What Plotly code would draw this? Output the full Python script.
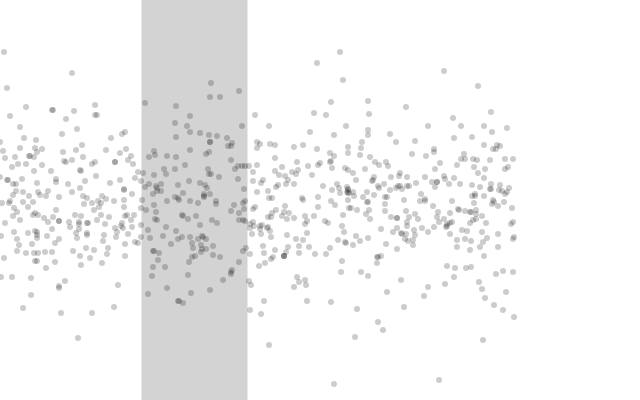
import plotly.graph_objects as go

left_points = [(4,52),(72,73),(7,88),(26,107),(52,110),(53,110),(95,105),(74,111),(10,116),(66,119),(95,115),(97,115),(20,127),(77,129),(62,134),(122,134),(125,132),(24,138),(36,140),(111,138),(82,145),(20,148),(3,151),(35,148),(37,152),(42,149),(76,150),(63,152),(106,150),(120,153),(126,149),(131,156),(5,158),(15,157),(29,156),(30,156),(34,157),(83,157),(72,160),(64,161),(66,162),(115,162),(115,162),(95,162),(92,164),(128,160),(18,164),(26,164),(42,165),(133,164),(12,167),(34,171),(51,171),(80,170),(81,171),(138,172),(96,176),(135,178),(22,179),(7,180),(8,180),(56,179),(56,182),(37,183),(13,184),(16,184),(68,184),(85,181),(110,183),(120,180),(141,181),(80,188),(124,189),(143,173),(0,142),(0,177),
(16,191),(23,192),(38,192),(48,191),(13,195),(29,196),(40,195),(46,196),(59,197),(72,192),(2,203),(9,203),(10,201),(23,202),(33,202),(14,208),(28,207),(17,212),(13,216),(33,215),(35,213),(38,215),(44,218),(20,220),(53,217),(56,210),(48,222),(59,221),(59,221),(5,223),(52,229),(69,222),(70,227),(79,222),(79,224),(79,229),(75,215),(81,216),(88,223),(87,223),(97,220),(101,215),(105,224),(109,217),(94,210),(99,207),(101,203),(98,201),(92,203),(84,204),(87,198),(83,196),(102,196),(106,199),(114,201),(124,200),(124,207),(132,194),(124,190),(134,215),(127,215),(125,216),(131,220),(122,223),(121,226),(132,227),(141,225),(115,228),(117,232),(123,228),(128,234),(116,237),(104,235),(103,241),(87,235),(87,233),(76,233),(77,238),(59,239),(55,243),(47,236),(37,232),(37,238),(35,231),(37,235),(28,233),(14,232),(17,239),(1,236),(32,244),(19,245),(125,244),(135,242),(138,243),(141,237),(86,248),(94,250),(73,251),(52,252),(45,252),(38,253),(34,253),(26,253),(17,251),(108,248),(107,254),(80,256),(90,258),(125,256),(4,258),(35,261),(37,261),(55,262),(81,265),(102,263),(46,268),(1,277),(12,277),(31,278),(65,281),(59,286),(59,288),(118,285),(31,295),(23,308),(61,313),(92,313),(114,307),(78,338)]

band_points = [(145,103),(176,106),(175,123),(176,137),(154,151),(149,157),(155,155),(167,156),(176,157),(164,169),(175,169),(154,175),(166,174),(149,184),(161,184),(178,185),(145,187),(156,186),(157,188),
(142,200),(153,194),(157,191),(161,191),(175,197),(178,198),(167,201),(154,205),(146,210),(141,208),(156,212),(155,219),(157,220),(166,227),(148,230),(176,231),(163,236),(150,238),(178,239),(171,244),(154,251),(153,251),(159,253),(158,260),(153,267),(165,267),(152,276),(167,288),(148,294),(178,301),
(211,83),(210,97),(220,97),(239,91),(190,116),(187,126),(190,132),(200,133),(209,135),(217,136),(227,138),(242,126),(210,142),(210,142),(232,143),(228,146),(231,146),(190,150),(206,154),(209,152),(231,160),(185,165),(235,169),(238,166),(242,166),(245,166),(208,169),(209,174),(211,174),(219,177),(238,179),(189,181),(200,183),(205,185),(207,188),(244,189),(183,193),(204,194),(204,196),(210,194),
(190,201),(198,203),(179,200),(204,197),(216,201),(216,204),(234,205),(243,203),(245,201),(244,209),(231,211),(239,213),(182,215),(183,216),(188,219),(196,216),(212,220),(217,223),(200,225),(239,220),(243,220),(245,221),(182,237),(190,237),(198,239),(202,236),(206,239),(203,237),(192,243),(193,248),(201,245),(213,246),(202,249),(206,249),(201,252),(213,255),(220,257),(192,257),(195,256),(189,262),(239,262),(243,251),(246,248),(188,275),(231,272),(232,270),(231,274),(223,280),(191,293),(210,290),(179,301),(183,303)]

right_points = [(317,63),(343,80),(331,102),(314,113),(326,115),(255,115),(269,126),(346,126),(310,132),(334,135),(257,142),(260,144),(257,148),(270,144),(275,145),(294,147),(303,145),(317,149),(348,147),(348,153),(330,153),(334,156),(275,158),(297,162),(320,163),(318,165),(330,162),(331,161),(257,165),(249,166),(308,166),(282,167),(332,168),(345,168),(348,170),(275,171),(253,172),(298,170),(292,172),(296,174),(312,175),(279,175),(285,176),(288,180),(253,181),(263,180),(261,183),(278,185),(276,187),(286,184),(294,184),(323,186),(337,184),(339,188),(332,190),(340,193),(348,190),(348,193),(257,192),(268,191),(269,198),(272,198),(302,198),(318,197),
(253,209),(255,207),(272,213),(276,210),(285,206),(284,212),(289,213),(282,216),(287,219),(294,218),(305,216),(314,216),(303,200),(318,207),(331,201),(335,205),(348,200),(349,208),(343,215),(253,222),(250,224),(250,228),(254,226),(260,226),(262,225),(268,217),(271,217),(267,228),(268,227),(270,231),(260,229),(252,234),(261,234),(271,237),(287,235),(296,239),(303,240),(307,233),(307,221),(305,224),(325,221),(328,223),(342,226),(344,232),(338,240),(345,242),(250,254),(263,246),(264,253),(275,250),(288,247),(286,252),(299,246),(299,253),(309,247),(315,254),(326,254),(330,248),(284,256),(284,256),(284,256),(273,257),(271,259),(265,263),(259,266),(342,261),(341,272),(249,281),(251,285),(297,277),(299,282),(305,280),(306,285),(294,287),(264,301),(307,301),(331,302),(250,310),(261,314),(269,345),(334,384),
(340,52),(444,71),(478,86),(368,101),(369,114),(406,107),(491,112),(453,118),(461,126),(428,126),(484,126),(368,130),(368,135),(507,128),(492,132),(390,134),(454,138),(472,137),(396,142),(415,141),(362,142),(484,145),(361,148),(497,145),(500,146),(493,149),(496,149),(434,149),(434,152),(412,154),(426,156),(360,155),(370,157),(464,154),(461,159),(465,159),(473,159),(477,160),(490,160),(505,159),(513,159),(375,162),(386,162),(379,165),(388,166),(440,163),(457,165),(474,167),(508,167),(505,169),(485,169),(353,173),(365,169),(435,169),(478,173),(400,173),(399,176),(391,177),(407,177),(425,177),(444,176),(445,179),(454,178),(484,178),(356,180),(372,181),(374,177),(373,180),(432,182),(437,182),(437,182),(416,183),(384,184),(378,186),(379,188),(449,184),(460,184),(472,185),(407,186),(409,186),(398,186),(400,186),(396,188),(402,189),(390,190),(435,187),(480,187),(491,184),(500,185),(509,188),(490,189),(491,189),(499,190),(502,191),(507,192),(505,194),(347,187),(348,189),(347,192),(353,192),(354,196),(349,193),(367,192),(363,197),(385,197),(387,197),(374,195),(421,194),(425,199),(404,200),(472,196),(475,194),(475,196),(484,196),(493,200),(452,201),
(367,202),(368,202),(385,204),(385,211),(420,201),(425,201),(433,206),(474,203),(494,202),(492,204),(498,206),(504,202),(512,208),(351,208),(357,210),(369,210),(366,214),(370,219),(391,217),(397,218),(397,218),(406,211),(409,217),(415,214),(418,219),(407,222),(407,226),(438,212),(437,217),(450,213),(458,209),(459,210),(465,211),(470,212),(471,212),(476,210),(482,216),(476,214),(476,219),(473,220),(470,223),(444,219),(439,222),(434,227),(452,222),(450,223),(447,224),(447,226),(446,227),(486,223),(513,222),(511,224),(381,229),(397,228),(393,232),(401,233),(402,234),(406,234),(414,230),(422,228),(428,232),(415,235),(405,239),(408,241),(413,240),(413,245),(356,236),(368,238),(360,241),(346,243),(353,245),(386,244),(397,249),(450,234),(462,230),(467,231),(482,232),(498,234),(487,238),(457,240),(465,239),(471,241),(483,242),(457,247),(480,247),(470,250),(498,247),(514,237),(513,239),(484,256),(381,256),(378,257),(377,257),(377,263),(361,272),(368,276),(447,266),(455,268),(466,268),(471,267),(454,277),(445,284),(401,280),(428,287),(387,292),(424,296),(496,274),(503,271),(513,272),(479,282),(482,289),(506,292),(485,298),(494,305),(503,310),(514,317),(357,309),(404,307),(378,322),(383,330),(355,337),(483,340),(439,380)]

band_range = (141.5, 247.5)
points = left_points + band_points + right_points
x_values = [p[0] for p in points]
y_values = [p[1] for p in points]

fig = go.Figure(go.Scatter(x=x_values, y=y_values, mode="markers",
                           marker=dict(size=6, color="rgba(0,0,0,0.2)", line=dict(width=0)),
                           hoverinfo="skip"))
fig.add_shape(type="rect", xref="x", yref="paper", x0=band_range[0], x1=band_range[1], y0=0, y1=1,
              fillcolor="#d3d3d3", line_width=0, layer="below")
fig.update_layout(width=640, height=400, margin=dict(l=0, r=0, t=0, b=0),
                  paper_bgcolor="white", plot_bgcolor="white", showlegend=False)
fig.update_xaxes(range=[0, 640], visible=False)
fig.update_yaxes(range=[400, 0], visible=False)
fig.write_html("out.html", config={"displayModeBar": False},
               post_script="document.body.style.margin='0';document.documentElement.style.overflow='hidden';")
